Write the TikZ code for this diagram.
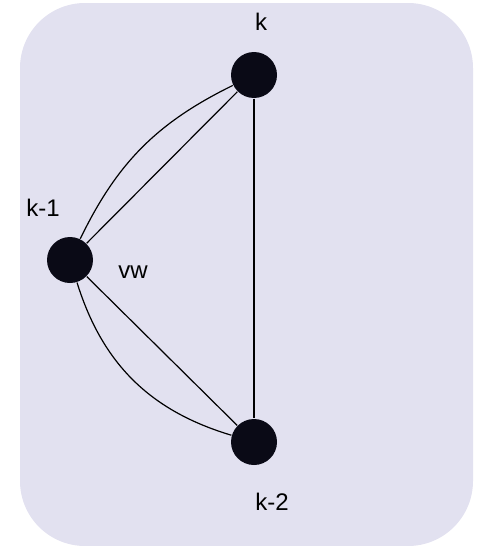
\documentclass[tikz,border=0pt]{standalone}
\usepackage{fontspec}
\setmainfont{Liberation Sans}
\definecolor{panel}{RGB}{226,225,240}
\definecolor{dot}{RGB}{10,10,22}

\begin{document}
\begin{tikzpicture}[x=1pt,y=-1pt,line width=1.2pt,
  vertex/.style={circle,fill=dot,minimum size=46pt,inner sep=0pt},
  lbl/.style={font=\fontsize{24}{28}\selectfont,inner sep=0pt}]
\useasboundingbox (0,0) rectangle (478,546);
\fill[panel,rounded corners=65pt] (20,3) rectangle (473,546);

\node[vertex] (k) at (254,75) {};
\node[vertex] (km1) at (70,260) {};
\node[vertex] (km2) at (254,442) {};

\node[lbl] (lk) at (261,22) {k};
\node[lbl] (lkm1) at (43,208) {k-1};
\node[lbl] (lvw) at (133,272) {vw};
\node[lbl] (lkm2) at (272,502) {k-2};

\draw (km1)--(k);
\draw (km1) to[bend left=19] (k);% upper pair
\draw (km1)--(km2);
\draw (km1) to[bend right=28] (km2);
\draw (k)--(km2);

\end{tikzpicture}
\end{document}
